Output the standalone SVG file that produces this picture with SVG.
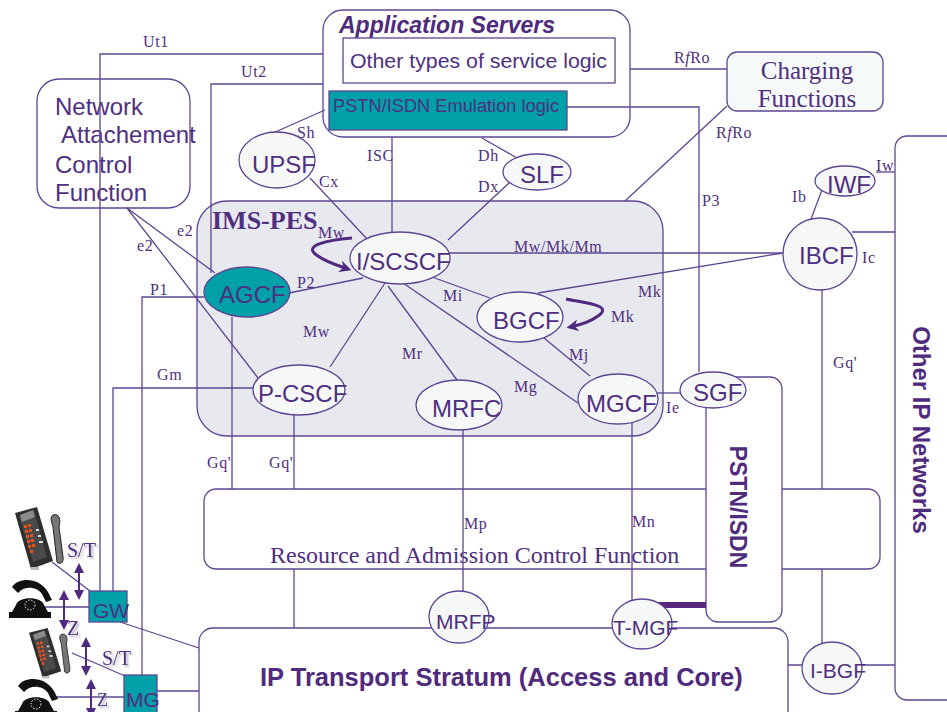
<svg xmlns="http://www.w3.org/2000/svg" xmlns:xlink="http://www.w3.org/1999/xlink" width="947" height="712" viewBox="0 0 947 712">
  <style>
    .ln{stroke:#5e4592;stroke-width:1.3;fill:none}
    .box{fill:#ffffff;stroke:#5e4592;stroke-width:1.3}
    .nd{fill:#f6f8f8;stroke:#5e4592;stroke-width:1.3}
    .teal{fill:#00a0a8;stroke:#5e4592;stroke-width:1.3}
    .nt{font-family:"Liberation Sans",Arial,sans-serif;font-size:24px;fill:#4f2f80}
    .sm{font-size:21px}
    .lbl{font-family:"Liberation Serif","Times New Roman",serif;font-size:16px;fill:#4f2f80;letter-spacing:0.6px}
    .big{font-family:"Liberation Serif","Times New Roman",serif;fill:#4f2f80}
    .bold{font-family:"Liberation Sans",Arial,sans-serif;font-weight:bold;fill:#4f2a7d}
    .loop{stroke:#4f2a80;stroke-width:3;fill:none;marker-end:url(#head)}
    .dbl{stroke:#4f2a80;stroke-width:2;fill:none;marker-start:url(#tip);marker-end:url(#tip)}
    .ref{font-family:"Liberation Serif","Times New Roman",serif;font-size:20px;fill:#4f2f80;filter:url(#shade)}
  </style>
  <defs>
    <marker id="head" viewBox="0 0 10 10" refX="7" refY="5" markerWidth="4" markerHeight="4" orient="auto">
      <path d="M0,0 L10,5 L0,10 L3,5 Z" fill="#4f2a80"/>
    </marker>
    <marker id="tip" viewBox="0 0 10 10" refX="8" refY="5" markerWidth="5" markerHeight="5" orient="auto-start-reverse">
      <path d="M0,0 L10,5 L0,10 Z" fill="#4f2a80"/>
    </marker>
    <filter id="shade" x="-20%" y="-20%" width="150%" height="150%">
      <feDropShadow dx="2" dy="2" stdDeviation="1" flood-color="#9a9aa8" flood-opacity="0.8"/>
    </filter>
    <!-- digital desk telephone, tilted body with handset on the right -->
    <g id="deskPhone">
      <polygon points="0,6 22,0 38,54 16,62" fill="#2f2f2f"/>
      <polygon points="4,9 19,4 32,50 18,55" fill="#4a4a4a"/>
      <polygon points="5,8 18,3 20,10 7,15" fill="#8a8a8a"/>
      <g fill="#e8501c">
        <rect x="9" y="18" width="3" height="3"/><rect x="13" y="17" width="3" height="3"/>
        <rect x="10" y="23" width="3" height="3"/><rect x="14" y="22" width="3" height="3"/>
        <rect x="11" y="28" width="3" height="3"/><rect x="15" y="27" width="3" height="3"/>
        <rect x="12" y="33" width="3" height="3"/><rect x="16" y="32" width="3" height="3"/>
        <rect x="13" y="38" width="3" height="3"/><rect x="17" y="37" width="3" height="3"/>
        <rect x="15" y="43" width="3" height="3"/>
      </g>
      <g fill="#dddddd">
        <rect x="21" y="22" width="3" height="2"/><rect x="23" y="28" width="3" height="2"/><rect x="24" y="34" width="4" height="2"/>
      </g>
      <path d="M38,8 C44,6 46,12 44,20 L48,50 C49,56 45,58 42,55 L38,20 C36,14 35,10 38,8 Z" fill="#777777" stroke="#222222" stroke-width="1"/>
      <rect x="16" y="60" width="8" height="3" fill="#bbbbbb"/>
    </g>
    <!-- rotary telephone -->
    <g id="rotaryPhone">
      <path d="M4,9 C10,0 30,-2 40,14 L44,22 L38,24 L34,16 C28,8 16,8 10,15 Z" fill="#111111"/>
      <path d="M8,27 C10,18 34,18 36,27 L40,34 L4,34 Z" fill="#111111"/>
      <rect x="1" y="34" width="42" height="6" fill="#111111"/>
      <circle cx="22" cy="27" r="5" fill="none" stroke="#ffffff" stroke-width="1" stroke-dasharray="1.5 1.5"/>
    </g>
  </defs>

  <rect width="947" height="712" fill="#ffffff"/>

  <!-- large function areas -->
  <g id="ims-pes">
    <rect x="197" y="201" width="466" height="235" rx="30" fill="#e8e9ee" stroke="#5e4592" stroke-width="1.3"/>
    <text class="big" x="212" y="229" style="font-size:26px;font-weight:bold">IMS-PES</text>
  </g>
  <g id="racf">
    <rect class="box" x="204" y="489" width="676" height="80" rx="12"/>
    <text class="big" x="270" y="563" style="font-size:24px">Resource and Admission Control Function</text>
  </g>
  <g id="pstn-isdn">
    <rect class="box" x="706" y="377" width="76" height="245" rx="12"/>
    <text class="bold" style="font-size:23px" text-anchor="middle" transform="translate(738,507) rotate(90)" y="8">PSTN/ISDN</text>
  </g>
  <g id="ip-transport">
    <rect class="box" x="199" y="628" width="589" height="100" rx="14"/>
    <text class="bold" x="260" y="686" style="font-size:25.5px">IP Transport Stratum (Access and Core)</text>
  </g>
  <g id="other-ip">
    <rect class="box" x="895" y="136" width="80" height="564" rx="12"/>
    <text class="bold" style="font-size:24px" text-anchor="middle" transform="translate(921,430) rotate(90)" y="8">Other IP Networks</text>
  </g>
  <g id="app-servers">
    <rect class="box" x="323" y="10" width="307" height="127" rx="20"/>
    <text class="bold" x="339" y="33" style="font-size:23px;font-style:italic">Application Servers</text>
    <rect class="box" x="343" y="38" width="272" height="45"/>
    <text class="nt" x="350" y="68" style="font-size:20px" textLength="257" lengthAdjust="spacingAndGlyphs">Other types of service logic</text>
    <rect class="teal" x="329" y="91" width="238" height="39"/>
    <text class="nt" x="333" y="112" style="font-size:18px" textLength="226" lengthAdjust="spacingAndGlyphs">PSTN/ISDN Emulation logic</text>
  </g>
  <g id="nacf">
    <rect class="box" x="37" y="79" width="153" height="129" rx="22"/>
    <text class="nt" x="55" y="115">Network</text>
    <text class="nt" x="61" y="143">Attachement</text>
    <text class="nt" x="55" y="173">Control</text>
    <text class="nt" x="55" y="201">Function</text>
  </g>
  <g id="charging">
    <rect x="727" y="52" width="156" height="59" rx="10" fill="#f6f9f9" stroke="#5e4592" stroke-width="1.3"/>
    <text class="big" x="807" y="79" style="font-size:25px" text-anchor="middle">Charging</text>
    <text class="big" x="807" y="107" style="font-size:25px" text-anchor="middle">Functions</text>
  </g>

  <!-- interfaces -->
  <g id="connectors">
    <path class="ln" d="M323,54 H100 V591"/>
    <path class="ln" d="M323,84 H211 V273"/>
    <path class="ln" d="M273,133 L325,110"/>
    <path class="ln" d="M310,178 L368,240"/>
    <path class="ln" d="M392,137 V233"/>
    <path class="ln" d="M482,138 L517,158"/>
    <path class="ln" d="M510,182 L448,240"/>
    <path class="ln" d="M630,69 H727"/>
    <path class="ln" d="M567,107 H699 V372"/>
    <path class="ln" d="M727,106 L625,201"/>
    <path class="ln" d="M449,253 H783"/>
    <path class="ln" d="M538,293 L783,253"/>
    <path class="ln" d="M822,190 L811,219"/>
    <path class="ln" d="M876,172 H895"/>
    <path class="ln" d="M852,232 H895"/>
    <path class="ln" d="M822,289 V489 M822,569 V643"/>
    <path class="ln" d="M788,665 H802 M862,665 H895"/>
    <path class="ln" d="M330,367 L385,283"/>
    <path class="ln" d="M289,293 L363,278"/>
    <path class="ln" d="M127,208 L215,273 M127,208 L258,378"/>
    <path class="ln" d="M204,297 H142 V675"/>
    <path class="ln" d="M253,388 H113 V591"/>
    <path class="ln" d="M432,277 L490,298"/>
    <path class="ln" d="M544,338 L590,376"/>
    <path class="ln" d="M403,283 L578,403"/>
    <path class="ln" d="M388,286 L457,380"/>
    <path class="ln" d="M657,393 H681"/>
    <path class="ln" d="M232,317 V489"/>
    <path class="ln" d="M294,414 V489 M294,569 V628"/>
    <path class="ln" d="M463,429 V592"/>
    <path class="ln" d="M632,423 V600"/>
    <path class="ln" d="M120,622 L199,648"/>
    <path class="ln" d="M157,691 H199"/>
    <path class="ln" d="M52,562 L90,591 M45,607 H89 M72,653 L125,676 M50,697 H124"/>
    <path d="M658,605 H706" stroke="#58297f" stroke-width="6" fill="none"/>
    <path class="loop" d="M352,238 C330,240 300,245 318,256 C326,262 336,265 348,269"/>
    <path class="loop" d="M566,299 C585,303 614,305 598,316 C590,322 580,325 570,327"/>
    <path class="dbl" d="M79,565 V598"/>
    <path class="dbl" d="M64,592 V628"/>
    <path class="dbl" d="M86,639 V674"/>
    <path class="dbl" d="M91,681 V716"/>
  </g>

  <!-- interface names -->
  <g id="interface-labels">
    <text class="lbl" x="143" y="47">Ut1</text>
    <text class="lbl" x="241" y="77">Ut2</text>
    <text class="lbl" x="297" y="138">Sh</text>
    <text class="lbl" x="319" y="187">Cx</text>
    <text class="lbl" x="367" y="161">ISC</text>
    <text class="lbl" x="478" y="161">Dh</text>
    <text class="lbl" x="478" y="192">Dx</text>
    <text class="lbl" x="674" y="63">R<tspan font-style="italic">f</tspan>Ro</text>
    <text class="lbl" x="716" y="138">R<tspan font-style="italic">f</tspan>Ro</text>
    <text class="lbl" x="702" y="206">P3</text>
    <text class="lbl" x="792" y="202">Ib</text>
    <text class="lbl" x="876" y="171">Iw</text>
    <text class="lbl" x="862" y="263">Ic</text>
    <text class="lbl" x="833" y="368">Gq'</text>
    <text class="lbl" x="638" y="297">Mk</text>
    <text class="lbl" x="611" y="322">Mk</text>
    <text class="lbl" x="514" y="252">Mw/Mk/Mm</text>
    <text class="lbl" x="443" y="301">Mi</text>
    <text class="lbl" x="569" y="360">Mj</text>
    <text class="lbl" x="514" y="392">Mg</text>
    <text class="lbl" x="402" y="359">Mr</text>
    <text class="lbl" x="303" y="337">Mw</text>
    <text class="lbl" x="318" y="238">Mw</text>
    <text class="lbl" x="297" y="288">P2</text>
    <text class="lbl" x="177" y="236">e2</text>
    <text class="lbl" x="137" y="251">e2</text>
    <text class="lbl" x="150" y="295">P1</text>
    <text class="lbl" x="157" y="380">Gm</text>
    <text class="lbl" x="207" y="468">Gq'</text>
    <text class="lbl" x="269" y="468">Gq'</text>
    <text class="lbl" x="666" y="413">Ie</text>
    <text class="lbl" x="464" y="529">Mp</text>
    <text class="lbl" x="632" y="527">Mn</text>
    <text class="ref" x="67" y="557">S/T</text>
    <text class="ref" x="67" y="635">Z</text>
    <text class="ref" x="102" y="665">S/T</text>
    <text class="ref" x="97" y="706" style="font-size:18px">Z</text>
  </g>

  <!-- functional entities -->
  <g id="upsf"><ellipse class="nd" cx="277" cy="160" rx="38" ry="28"/><text class="nt" x="252" y="173">UPSF</text></g>
  <g id="slf"><ellipse class="nd" cx="537" cy="172" rx="34" ry="18"/><text class="nt" x="520" y="183">SLF</text></g>
  <g id="iscscf"><ellipse class="nd" cx="400" cy="258" rx="50" ry="26"/><text class="nt" x="356" y="270">I/SCSCF</text></g>
  <g id="agcf"><ellipse class="teal" cx="247" cy="292" rx="43" ry="25"/><text class="nt" x="219" y="303">AGCF</text></g>
  <g id="pcscf"><ellipse class="nd" cx="299" cy="390" rx="46" ry="25"/><text class="nt" x="258" y="402">P-CSCF</text></g>
  <g id="bgcf"><ellipse class="nd" cx="520" cy="317" rx="43" ry="25"/><text class="nt" x="493" y="329">BGCF</text></g>
  <g id="mrfc"><ellipse class="nd" cx="459" cy="405" rx="43" ry="25"/><text class="nt" x="432" y="417">MRFC</text></g>
  <g id="mgcf"><ellipse class="nd" cx="618" cy="399" rx="40" ry="25"/><text class="nt" x="586" y="412">MGCF</text></g>
  <g id="ibcf"><ellipse class="nd" cx="820" cy="254" rx="37" ry="36"/><text class="nt" x="799" y="264">IBCF</text></g>
  <g id="iwf"><ellipse class="nd" cx="845" cy="181" rx="30" ry="15"/><text class="nt" x="827" y="193">IWF</text></g>
  <g id="sgf"><ellipse class="nd" cx="713" cy="390" rx="33" ry="18"/><text class="nt" x="693" y="401">SGF</text></g>
  <g id="mrfp"><ellipse class="nd" cx="459" cy="617" rx="30" ry="26"/><text class="nt sm" x="436" y="629">MRFP</text></g>
  <g id="tmgf"><ellipse class="nd" cx="642" cy="624" rx="30" ry="25"/><text class="nt sm" x="613" y="635">T-MGF</text></g>
  <g id="ibgf"><ellipse class="nd" cx="832" cy="668" rx="30" ry="26"/><text class="nt sm" x="810" y="678">I-BGF</text></g>
  <g id="gw"><rect class="teal" x="89" y="591" width="38" height="31"/><text class="nt" x="93" y="618" style="font-size:21px">GW</text></g>
  <g id="mg"><rect class="teal" x="124" y="675" width="33" height="45"/><text class="nt" x="126" y="707" style="font-size:21px">MG</text></g>

  <!-- terminals -->
  <g id="terminals">
    <use xlink:href="#deskPhone" transform="translate(15,507)"/>
    <use xlink:href="#rotaryPhone" transform="translate(8,578)"/>
    <use xlink:href="#deskPhone" transform="translate(29,628) scale(0.85,0.8)"/>
    <use xlink:href="#rotaryPhone" transform="translate(14,677)"/>
  </g>
</svg>
